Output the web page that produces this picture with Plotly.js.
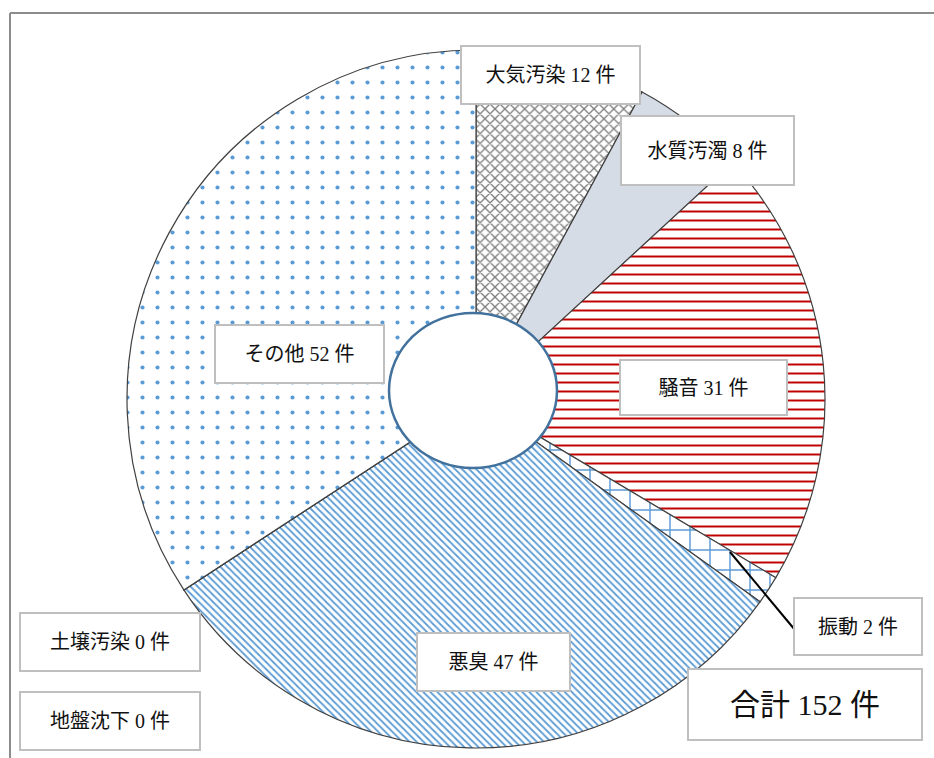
<!DOCTYPE html>
<html>
<head>
<meta charset="utf-8">
<script src="https://cdn.plot.ly/plotly-3.0.1.min.js"></script>
<style>
  html, body { margin: 0; padding: 0; background: #fff; }
  #chart { width: 934px; height: 758px; }
</style>
</head>
<body>
<div id="chart"></div>
<script>
// 公害苦情の種類別件数
const categories = ['大気汚染', '水質汚濁', '騒音', '振動', '悪臭', '土壌汚染', '地盤沈下', 'その他'];
const counts = [12, 8, 31, 2, 47, 0, 0, 52];
const total = 152;

// slice fills (pattern shape, foreground, background)
const shapes = ['x', '', '-', '+', '\\', '', '', '.'];
const fgColors = ['#7f7f7f', '#d6dce5', '#c00000', '#5b9bd5', '#5b9bd5', '#ffffff', '#ffffff', '#5b9bd5'];
const bgColors = ['#ffffff', '#d6dce5', '#ffffff', '#ffffff', '#ffffff', '#ffffff', '#ffffff', '#ffffff'];
const sizes = [7, 8, 9, 20, 5, 8, 8, 15];
const solidity = [0.35, 0.3, 0.22, 0.14, 0.35, 0.3, 0.3, 0.06];

const W = 934, H = 758;
const px = x => x / W;
const py = y => 1 - y / H;

// label boxes: [center x, center y, width, height] in pixels
const boxes = {
  '大気汚染': [550, 72, 177, 56],
  '水質汚濁': [707, 148, 171, 67],
  '騒音': [703, 384, 165, 53],
  '振動': [858, 623, 126, 55],
  '悪臭': [493, 659, 151, 56],
  '土壌汚染': [110, 639, 178, 56],
  '地盤沈下': [110, 718, 178, 56],
  'その他': [299, 351, 167, 56]
};

const font = { family: '"Liberation Serif", "DejaVu Serif", "Noto Sans CJK JP", serif', color: '#111' };

const annotations = categories.map((c, i) => {
  const b = boxes[c];
  return {
    xref: 'paper', yref: 'paper',
    x: px(b[0]), y: py(b[1]),
    xanchor: 'center', yanchor: 'middle',
    text: c + ' ' + counts[i] + ' 件',
    showarrow: false,
    width: b[2], height: b[3],
    yshift: -3,
    bgcolor: '#ffffff', bordercolor: '#bfbfbf', borderwidth: 2, borderpad: 0,
    font: Object.assign({ size: 20 }, font)
  };
});

annotations.push({
  xref: 'paper', yref: 'paper',
  x: px(805), y: py(704),
  xanchor: 'center', yanchor: 'middle',
  text: '合計 ' + total + ' 件',
  showarrow: false,
  width: 232, height: 69,
  bgcolor: '#ffffff', bordercolor: '#bfbfbf', borderwidth: 2, borderpad: 0,
  font: Object.assign({ size: 30 }, font)
});

const data = [{
  type: 'pie',
  labels: categories,
  values: counts,
  sort: false,
  direction: 'clockwise',
  rotation: 0,
  textinfo: 'none',
  hoverinfo: 'skip',
  showlegend: false,
  domain: { x: [px(127), px(825)], y: [py(748), py(50)] },
  marker: {
    colors: bgColors,
    line: { color: '#404040', width: 1.2 },
    pattern: {
      shape: shapes,
      fgcolor: fgColors,
      bgcolor: bgColors,
      size: sizes,
      solidity: solidity
    }
  }
}];

const layout = {
  width: W, height: H,
  margin: { l: 0, r: 0, t: 0, b: 0 },
  paper_bgcolor: '#ffffff',
  annotations: annotations,
  shapes: [
    // outer frame
    { type: 'line', xref: 'paper', yref: 'paper', x0: px(10), x1: 1, y0: py(13), y1: py(13), line: { color: '#8c8c8c', width: 2 } },
    { type: 'line', xref: 'paper', yref: 'paper', x0: px(10), x1: px(10), y0: py(13), y1: 0, line: { color: '#8c8c8c', width: 2 } },
    // centre circle
    { type: 'circle', xref: 'paper', yref: 'paper', x0: px(389), x1: px(557), y0: py(468), y1: py(313),
      fillcolor: '#ffffff', line: { color: '#41719c', width: 2.5 }, layer: 'above' },
    // leader line for 振動
    { type: 'line', xref: 'paper', yref: 'paper', x0: px(730), y0: py(552), x1: px(795), y1: py(630),
      line: { color: '#000000', width: 2 } }
  ]
};

Plotly.newPlot('chart', data, layout, { displayModeBar: false, staticPlot: true });
</script>
</body>
</html>
